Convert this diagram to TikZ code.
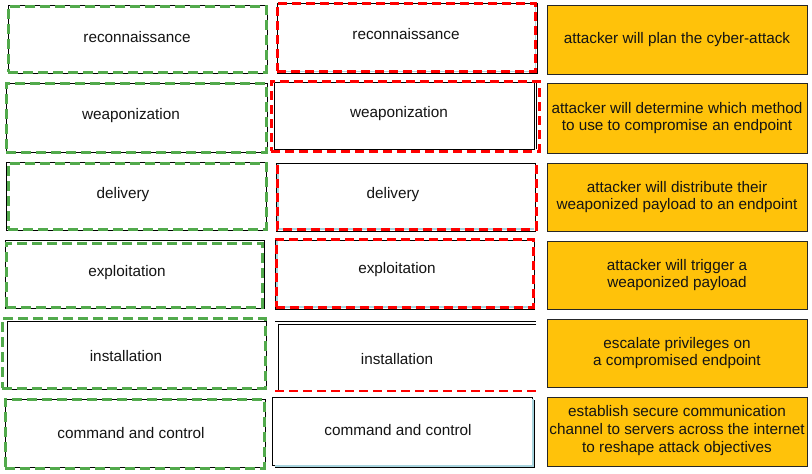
\documentclass[tikz,border=0pt]{standalone}
\usepackage{fontspec}
\setmainfont{Liberation Sans}
\usetikzlibrary{fit}
\definecolor{gold}{HTML}{FFC20A}
\definecolor{dgreen}{HTML}{52AA4C}
\definecolor{lblue}{HTML}{A8D4DE}
\definecolor{ink}{HTML}{141414}
\begin{document}
\begin{tikzpicture}[x=1pt,y=-1pt,
  box/.style={draw=black, line width=0.9pt, inner sep=0pt, outer sep=0pt},
  gdash/.style={draw=dgreen, line width=3pt, dash pattern=on 10pt off 5pt, inner sep=0pt, outer sep=0pt},
  rdash/.style={draw=red, line width=3pt, dash pattern=on 9pt off 5pt, inner sep=0pt, outer sep=0pt},
  rthin/.style={draw=red, line width=1.6pt, dash pattern=on 9pt off 5pt},
  blueln/.style={draw=lblue, line width=1.8pt},
  blackln/.style={draw=black, line width=0.9pt},
  txt/.style={font=\fontsize{15.3}{17.7}\selectfont, text=ink, align=center, inner sep=0pt},
  gbox/.style={draw=black!85, line width=0.9pt, fill=gold, inner sep=0pt, outer sep=0pt,
     font=\fontsize{15.3}{17.7}\selectfont, text=ink, align=center}]
\useasboundingbox[fill=white] (0,0) rectangle (812,474);

% ---------- left column ----------
\node[box, fit={(8,5)(267,73)}] (L1) {};
\node[gdash, fit={(8,6)(266,72)}] (L1g) {};
\node[box, fit={(6,83)(267,152)}] (L2) {};
\node[gdash, fit={(6,83)(266,152)}] (L2g) {};
\node[box, fit={(6,162)(266,230)}] (L3) {};
\node[gdash, fit={(8,163)(266,229)}] (L3g) {};
\node[box, fit={(5,240)(264,308)}] (L4) {};
\node[gdash, fit={(6,243)(262,307)}] (L4g) {};
\node[box, fit={(7,321)(266,389)}] (L5) {};
\node[gdash, fit={(2,318)(265,388)}] (L5g) {};
\node[box, fit={(5,399)(265,467)}] (L6) {};
\node[gdash, fit={(5,399)(264,468)}] (L6g) {};

\node[txt] (tL1) at (137,37) {reconnaissance};
\node[txt] (tL2) at (131,116) {weaponization};
\node[txt] (tL3) at (123,195) {delivery};
\node[txt] (tL4) at (127,273) {exploitation};
\node[txt] (tL5) at (126,356) {installation};
\node[txt] (tL6) at (131,433) {command and control};

% ---------- middle column ----------
% row 1
\node[box, fit={(277,3)(537,73)}] (M1) {};
\draw[blueln] ([xshift=1pt,yshift=1.5pt]M1.south west) -- ([xshift=-1.5pt,yshift=1.5pt]M1.south east) -- ([xshift=-1.5pt,yshift=-1pt]M1.north east);
\node[rdash, fit={(277,3)(535,71)}] (M1r) {};
% row 2
\node[box, fit={(274,82)(534,149)}] (M2) {};
\draw[blackln] ([xshift=2pt]M2.north east) -- ([xshift=2pt]M2.south east);
\node[rdash, fit={(271,81)(539,151)}] (M2r) {};
% row 3
\node[box, fit={(276,163)(535,231)}] (M3) {};
\draw[blueln] ([xshift=1.8pt,yshift=-1pt]M3.north west) -- ([xshift=1.8pt,yshift=1.8pt]M3.south west) -- ([xshift=-1pt,yshift=1.8pt]M3.south east);
\draw[rdash] ([xshift=1pt,yshift=-2pt]M3.north west) -- ([xshift=1pt,yshift=2pt]M3.south west) -- ([xshift=1pt,yshift=2pt]M3.south east) -- ([xshift=1pt,yshift=-2pt]M3.north east);
% row 4
\node[box, fit={(275,240)(534,309)}] (M4) {};
\draw[blueln] ([xshift=1.8pt,yshift=-1pt]M4.north west) -- ([xshift=1.8pt,yshift=1.8pt]M4.south west) -- ([xshift=-1pt,yshift=1.8pt]M4.south east);
\node[rdash, fit={(276,239)(533,307)}] (M4r) {};
% row 5
\coordinate (M5a) at (275,321);
\coordinate (M5b) at (536,321);
\coordinate (M5c) at (278,324);
\coordinate (M5d) at (536,324);
\coordinate (M5e) at (278,391);
\coordinate (M5f) at (275,391);
\coordinate (M5g) at (537,391);
\draw[blackln] (M5a) -- (M5b);
\draw[blackln] (M5d) -- (M5c) -- (M5e);
\draw[rthin] (M5f) -- (M5g);
% row 6
\node[box, fit={(272,397)(532,465)}] (M6) {};
\draw[blueln] ([xshift=1.3pt,yshift=-2pt]M6.north east) -- ([xshift=1.3pt,yshift=-1.3pt]M6.south east) -- ([xshift=3pt,yshift=-1.3pt]M6.south west);
\draw[blackln] ([xshift=2.6pt,yshift=-3pt]M6.north east) -- ([xshift=2.6pt,yshift=-2.6pt]M6.south east) -- ([xshift=3pt,yshift=-2.6pt]M6.south west);

\node[txt] (tM1) at (406,34) {reconnaissance};
\node[txt] (tM2) at (399,114) {weaponization};
\node[txt] (tM3) at (393,195) {delivery};
\node[txt] (tM4) at (397,270) {exploitation};
\node[txt] (tM5) at (397,359) {installation};
\node[txt] (tM6) at (398,430) {command and control};

% ---------- right column ----------
\node[gbox, fit={(547,5)(807,74)}] (R1) {};
\node[txt] (tR1) at (R1.center) {attacker will plan the cyber-attack};
\node[gbox, fit={(547,83)(807,153)}] (R2) {};
\node[txt] (tR2) at (R2.center) {attacker will determine which method\\to use to compromise an endpoint};
\node[gbox, fit={(547,163)(807,231)}] (R3) {};
\node[txt] (tR3) at (R3.center) {attacker will distribute their\\weaponized payload to an endpoint};
\node[gbox, fit={(547,241)(807,309)}] (R4) {};
\node[txt] (tR4) at (R4.center) {attacker will trigger a\\weaponized payload};
\node[gbox, fit={(547,319)(807,387)}] (R5) {};
\node[txt] (tR5) at (R5.center) {escalate privileges on\\a compromised endpoint};
\node[gbox, fit={(547,397)(807,466)}] (R6) {};
\node[txt] (tR6) at ([yshift=1pt]R6.center) {establish secure communication\\channel to servers across the internet\\to reshape attack objectives};
\end{tikzpicture}
\end{document}
